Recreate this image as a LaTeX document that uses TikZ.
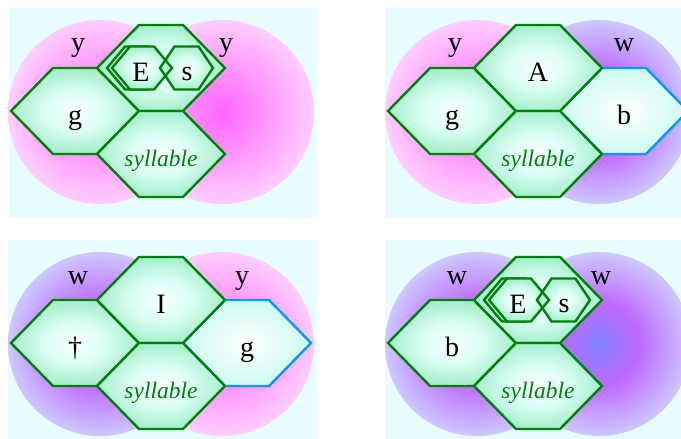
\documentclass[tikz,border=0pt]{standalone}
\usepackage{fontspec}
\setmainfont{Liberation Serif}
\usepackage{xcolor}
\usepackage{tikz}
\usetikzlibrary{positioning}
\definecolor{bgcyan}{RGB}{232, 253, 253}
\definecolor{cellgreen}{RGB}{0, 128, 10}
\definecolor{codablue}{RGB}{0, 153, 255}
\definecolor{pinkcore}{RGB}{255, 100, 255}
\definecolor{pinkrim}{RGB}{255, 205, 255}
\definecolor{violetcore}{RGB}{130, 130, 255}
\definecolor{violetmid}{RGB}{190, 105, 255}
\definecolor{violetrim}{RGB}{205, 200, 255}
\definecolor{cellcore}{RGB}{248, 255, 255}
\definecolor{cellmid}{RGB}{220, 255, 246}
\definecolor{cellrim}{RGB}{165, 238, 202}
\definecolor{codarim}{RGB}{205, 250, 242}
\pgfdeclareradialshading{pinkglow}{\pgfpoint{0bp}{0bp}}{color(0bp)=(pinkcore); color(25bp)=(pinkrim); color(50bp)=(pinkrim)}
\pgfdeclareradialshading{violetglow}{\pgfpoint{0bp}{0bp}}{color(0bp)=(violetcore); color(11bp)=(violetmid); color(25bp)=(violetrim); color(50bp)=(violetrim)}
\pgfdeclareradialshading{cellglow}{\pgfpoint{0bp}{0bp}}{color(0bp)=(cellcore); color(11bp)=(cellmid); color(25bp)=(cellrim); color(50bp)=(cellrim)}
\pgfdeclareradialshading{codaglow}{\pgfpoint{0bp}{0bp}}{color(0bp)=(white); color(25bp)=(codarim); color(50bp)=(codarim)}
% hexagon: style, centre x, centre y, half width, half top, half height
\newcommand{\hexcell}[6]{%
  \path[#1] (#2-#4,#3) -- (#2-#5,#3-#6) -- (#2+#5,#3-#6) -- (#2+#4,#3)
    -- (#2+#5,#3+#6) -- (#2-#5,#3+#6) -- cycle;}
\newcommand{\bigcell}[3]{\hexcell{#1}{#2}{#3}{64}{22}{43}}
% E and s inside the nucleus cell
\newcommand{\nucleuspair}{%
  \hexcell{cellbox}{137}{68}{30}{12}{21.5}
  \hexcell{cellfill}{142}{68}{30}{12}{21.5}
  \hexcell{cellfill}{186.5}{68}{26.5}{12}{21.5}
  \hexcell{celledge}{142}{68}{30}{12}{21.5}
  \hexcell{celledge}{186.5}{68}{26.5}{12}{21.5}}
\tikzset{
  panelbg/.style={fill=bgcyan, draw=none},
  pinkblob/.style={shade, shading=pinkglow},
  violetblob/.style={shade, shading=violetglow},
  cellfill/.style={shade, shading=cellglow},
  celledge/.style={draw=cellgreen, line width=2.4pt},
  cellbox/.style={cellfill, celledge},
  codabox/.style={shade, shading=codaglow, draw=codablue, line width=2.4pt},
  letter/.style={font=\fontsize{28}{30}\selectfont, anchor=base, inner sep=0pt},
  sylltext/.style={font=\fontsize{23.5}{26}\selectfont\itshape, text=cellgreen,
    anchor=base, inner sep=0pt}
}

\begin{document}
\begin{tikzpicture}[x=1pt, y=-1pt]
  \useasboundingbox (0,0) rectangle (681,439);
  \clip (0,0) rectangle (681,439);

  % Panel 1: y y, E s
  \fill[panelbg] (9,8) rectangle (317,217);
  \path[pinkblob] (100,112) circle[radius=92];
  \path[pinkblob] (222,112) circle[radius=92];
  \bigcell{cellbox}{75}{111}
  \bigcell{cellbox}{161}{68}
  \bigcell{cellbox}{161}{154}
  \nucleuspair
  \node[letter] (p1left) at (78,52) {y};
  \node[letter] (p1right) at (226,52) {y};
  \node[letter] (p1g) at (75,124) {g};
  \node[letter] (p1e) at (141,81) {E};
  \node[letter] (p1s) at (187,80) {s};
  \node[sylltext] (p1syl) at (161,166) {syllable};

  % Panel 2: y w, A, b
  \begin{scope}[shift={(377,0)}]
    \fill[panelbg] (8,8) rectangle (317,217);
    \path[pinkblob] (100,112) circle[radius=92];
    \path[violetblob] (222,112) circle[radius=92];
    \bigcell{codabox}{247}{111}
    \bigcell{cellbox}{75}{111}
    \bigcell{cellbox}{161}{68}
    \bigcell{cellbox}{161}{154}
    \node[letter] (p2left) at (78,52) {y};
    \node[letter] (p2right) at (247,52) {w};
    \node[letter] (p2g) at (75,124) {g};
    \node[letter] (p2a) at (161,81) {A};
    \node[letter] (p2b) at (247,124) {b};
    \node[sylltext] (p2syl) at (161,166) {syllable};
  \end{scope}

  % Panel 3: w y, dagger, I, g
  \begin{scope}[shift={(0,232)}]
    \fill[panelbg] (8,8) rectangle (317,217);
    \path[violetblob] (100,112) circle[radius=92];
    \path[pinkblob] (222,112) circle[radius=92];
    \bigcell{codabox}{247}{111}
    \bigcell{cellbox}{75}{111}
    \bigcell{cellbox}{161}{68}
    \bigcell{cellbox}{161}{154}
    \node[letter] (p3left) at (78,52) {w};
    \node[letter] (p3right) at (242,52) {y};
    \node[letter] (p3dag) at (75,124) {\textdagger};
    \node[letter] (p3i) at (161,81) {I};
    \node[letter] (p3g) at (247,124) {g};
    \node[sylltext] (p3syl) at (161,166) {syllable};
  \end{scope}

  % Panel 4: w w, E s
  \begin{scope}[shift={(377,232)}]
    \fill[panelbg] (8,8) rectangle (317,217);
    \path[violetblob] (100,112) circle[radius=92];
    \path[violetblob] (222,112) circle[radius=92];
    \bigcell{cellbox}{75}{111}
    \bigcell{cellbox}{161}{68}
    \bigcell{cellbox}{161}{154}
    \nucleuspair
    \node[letter] (p4left) at (80,52) {w};
    \node[letter] (p4right) at (224,52) {w};
    \node[letter] (p4b) at (75,124) {b};
    \node[letter] (p4e) at (141,81) {E};
    \node[letter] (p4s) at (187,80) {s};
    \node[sylltext] (p4syl) at (161,166) {syllable};
  \end{scope}
\end{tikzpicture}
\end{document}
